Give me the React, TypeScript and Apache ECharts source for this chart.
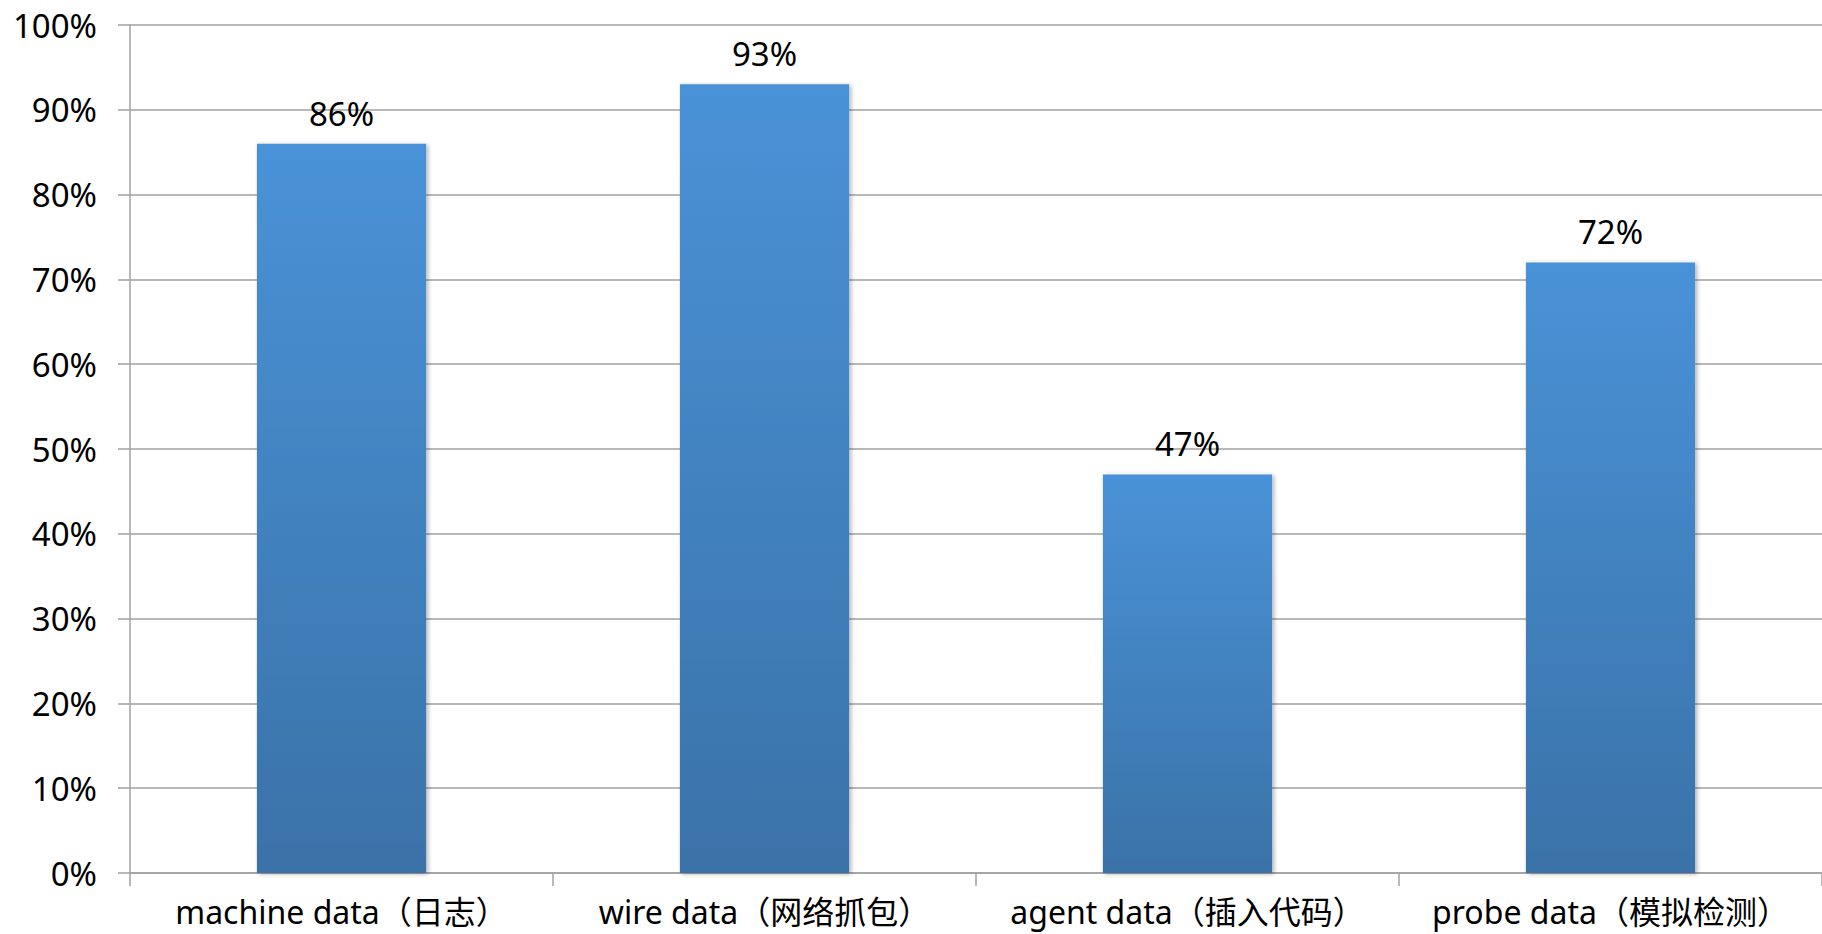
import React, { useEffect, useRef } from "react";
import * as echarts from "echarts";

const categories = [
  "machine data（日志）",
  "wire data（网络抓包）",
  "agent data（插入代码）",
  "probe data（模拟检测）",
];
const values = [86, 93, 47, 72];
const yTicks = { min: 0, max: 100, interval: 10 };

const FONT = '"Noto Sans", "Noto Sans CJK SC", sans-serif';

export default function App() {
  const ref = useRef<HTMLDivElement>(null);
  useEffect(() => {
    if (!ref.current) return;
    const chart = echarts.init(ref.current, undefined, { renderer: "svg" });
    chart.setOption({
      animation: false,
      backgroundColor: "#ffffff",
      grid: { left: 130, top: 25, right: -4, bottom: 61, containLabel: false },
      xAxis: {
        type: "category",
        data: categories,
        axisLine: { show: true, lineStyle: { color: "#A0A0A0", width: 1.5 } },
        axisTick: { show: true, length: 13, alignWithLabel: false, lineStyle: { color: "#A0A0A0", width: 1.5 } },
        axisLabel: { color: "#000", fontSize: 32, fontFamily: FONT, margin: 22, interval: 0 },
        splitLine: { show: false },
      },
      yAxis: {
        type: "value",
        min: yTicks.min,
        max: yTicks.max,
        interval: yTicks.interval,
        axisLine: { show: true, lineStyle: { color: "#A0A0A0", width: 1.5 } },
        axisTick: { show: true, length: 12, lineStyle: { color: "#A0A0A0", width: 1.5 } },
        axisLabel: { color: "#000", fontSize: 33, fontFamily: FONT, margin: 33, formatter: "{value}%" },
        splitLine: { show: true, lineStyle: { color: "#A0A0A0", width: 1.5 } },
      },
      series: [
        {
          type: "bar",
          data: values,
          barWidth: "40%",
          itemStyle: {
            color: new echarts.graphic.LinearGradient(0, 0, 0, 1, [
              { offset: 0, color: "#4A92D7" },
              { offset: 1, color: "#3A72A8" },
            ]),
            shadowBlur: 4,
            shadowColor: "rgba(0,0,0,0.3)",
            shadowOffsetX: 2,
            shadowOffsetY: 1,
          },
          label: {
            show: true,
            position: "top",
            distance: 14,
            color: "#000",
            fontSize: 33,
            fontFamily: FONT,
            formatter: "{c}%",
          },
        },
      ],
    });
    return () => chart.dispose();
  }, []);
  return (
    <div
      ref={ref}
      style={{ position: "absolute", left: 0, top: 0, width: 1822, height: 934, overflow: "hidden" }}
    />
  );
}
